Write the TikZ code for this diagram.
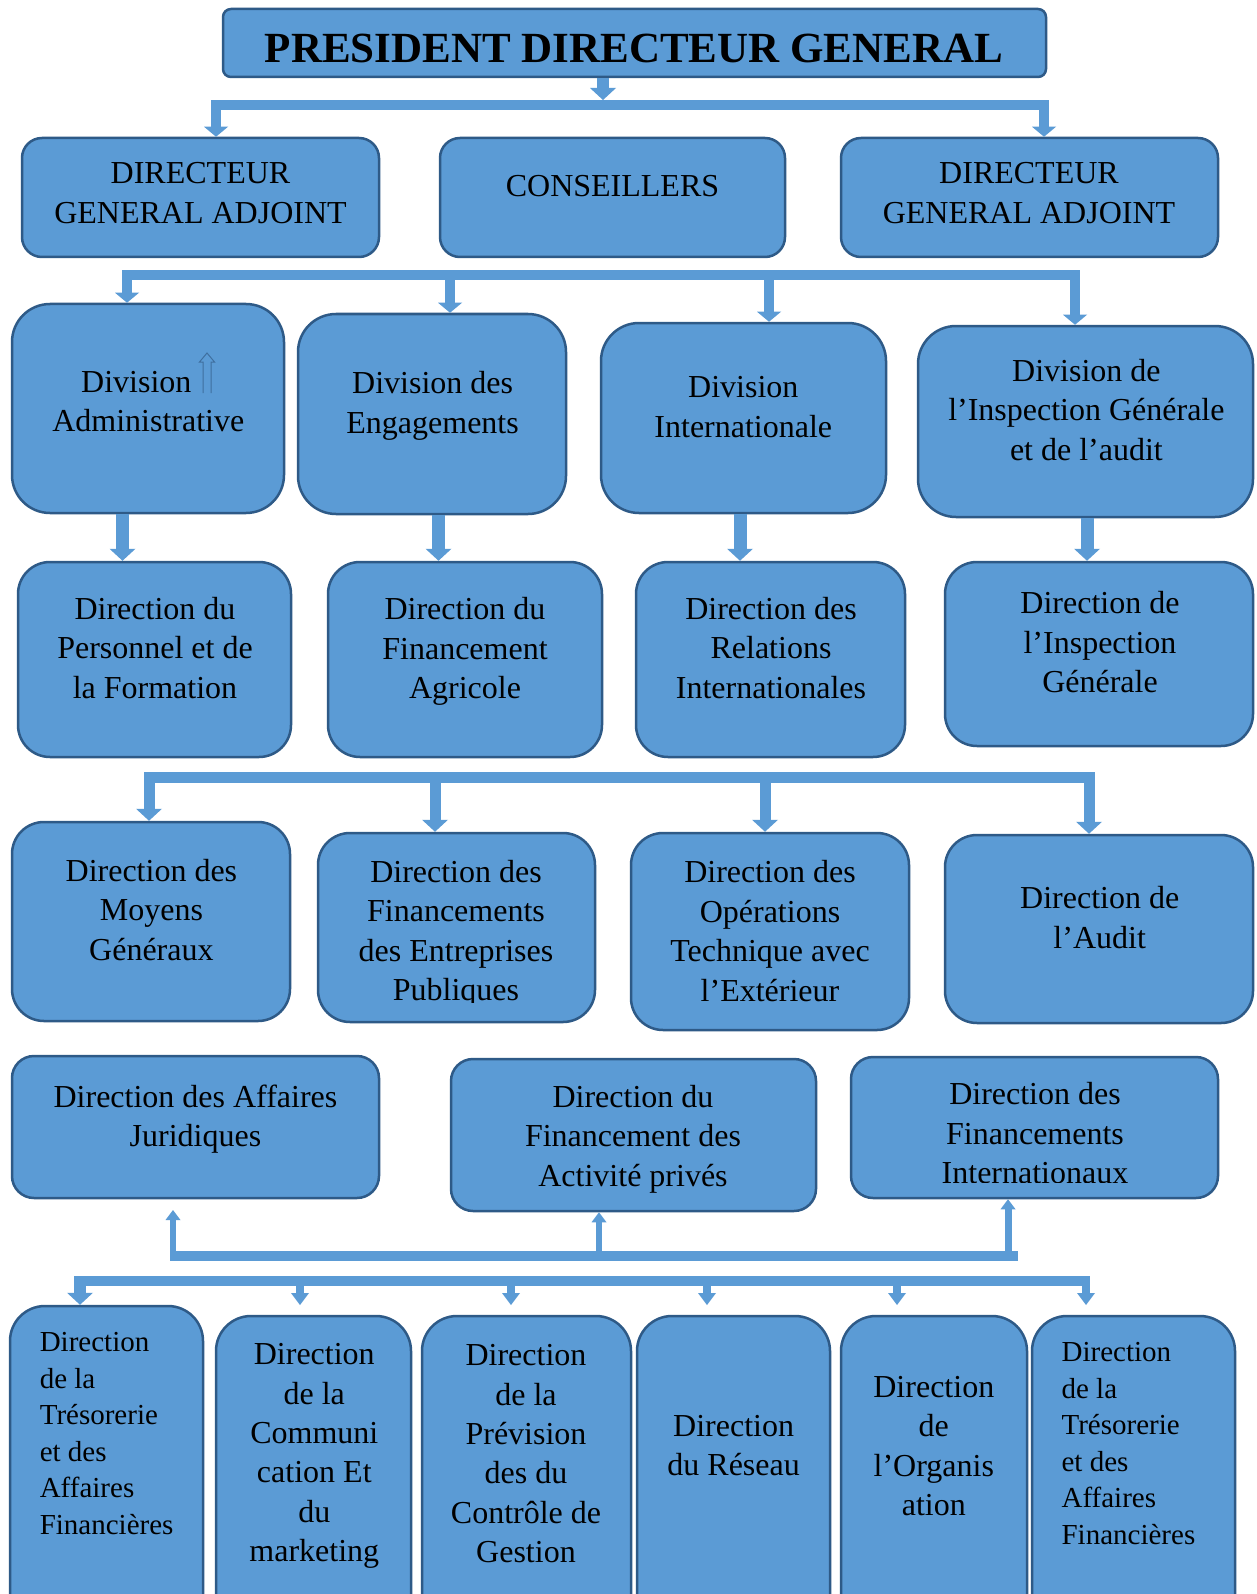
\documentclass[tikz,border=0pt]{standalone}
\usepackage{fontspec}
\setmainfont{Liberation Serif}
\usetikzlibrary{arrows.meta}
\definecolor{boxfill}{HTML}{5B9BD5}
\definecolor{boxline}{HTML}{2E5A87}
\definecolor{glyphcol}{HTML}{3F6F9F}
\tikzset{
  box/.style={rectangle,draw=boxline,fill=boxfill,line width=2.5pt,inner sep=0pt},
  txt/.style={align=center,inner sep=0pt,text=black,font=\fontsize{32}{39.5}\selectfont},
  txtb/.style={align=center,inner sep=0pt,text=black,font=\fontsize{32}{39.3}\selectfont},
  txtl/.style={align=left,anchor=west,inner sep=0pt,text=black,font=\fontsize{29}{36.5}\selectfont},
  conn/.style={draw=boxfill,line width=10pt,line cap=butt,line join=miter},
  headL/.style={>={Triangle[width=26pt 0 0,length=12pt 0 0,line width=0pt 0 0]}},
  headM/.style={>={Triangle[width=24pt 0 0,length=10pt 0 0,line width=0pt 0 0]}},
  headS/.style={>={Triangle[width=15pt 0 0,length=10pt 0 0,line width=0pt 0 0]}},
  headB/.style={>={Triangle[width=18pt 0 0,length=12pt 0 0,line width=0pt 0 0]}},
}
\begin{document}
\begin{tikzpicture}[x=1pt,y=-1pt]
\useasboundingbox (0,0) rectangle (1256,1594);
\clip (0,0) rectangle (1256,1594);
\fill[white] (0,0) rectangle (1256,1594);

% ---------- coordinates of bars ----------
\coordinate (b1) at (0,105.5);
\coordinate (b1top) at (603,100);
\coordinate (b2) at (0,275.5);
\coordinate (b3) at (0,777.5);
\coordinate (b4L) at (170,1256);
\coordinate (b4R) at (1018,1256);
\coordinate (u1) at (173,1210);
\coordinate (b5L) at (74,1281);
\coordinate (b5R) at (1090,1281);
\coordinate (t2) at (300,1305);
\coordinate (t3) at (511,1305);
\coordinate (t4) at (707,1305);
\coordinate (t5) at (897,1305);
\coordinate (t6) at (1086,1305);

% ---------- boxes (named) ----------
\node[box,minimum width=823pt,minimum height=68pt,rounded corners=8pt] (pdg) at (634.5,43) {};
\node[box,minimum width=357pt,minimum height=119pt,rounded corners=20pt] (dga1) at (200.5,197.5) {};
\node[box,minimum width=345pt,minimum height=119pt,rounded corners=20pt] (cons) at (612.5,197.5) {};
\node[box,minimum width=377pt,minimum height=119pt,rounded corners=20pt] (dga2) at (1029.5,197.5) {};

\node[box,minimum width=272pt,minimum height=209pt,rounded corners=38pt] (divA) at (148,408.5) {};
\node[box,minimum width=268pt,minimum height=200pt,rounded corners=38pt] (divE) at (432,414) {};
\node[box,minimum width=285pt,minimum height=190pt,rounded corners=38pt] (divI) at (743.5,418) {};
\node[box,minimum width=335pt,minimum height=191pt,rounded corners=38pt] (divG) at (1085.5,421.5) {};

\node[box,minimum width=273pt,minimum height=195pt,rounded corners=32pt] (dP) at (154.5,659.5) {};
\node[box,minimum width=274pt,minimum height=195pt,rounded corners=32pt] (dFA) at (465,659.5) {};
\node[box,minimum width=269pt,minimum height=195pt,rounded corners=32pt] (dRI) at (770.5,659.5) {};
\node[box,minimum width=308pt,minimum height=184pt,rounded corners=32pt] (dIG) at (1099,654) {};

\node[box,minimum width=278pt,minimum height=199pt,rounded corners=32pt] (dMG) at (151,921.5) {};
\node[box,minimum width=277pt,minimum height=189pt,rounded corners=32pt] (dFE) at (456.5,927.5) {};
\node[box,minimum width=278pt,minimum height=197pt,rounded corners=32pt] (dOT) at (770,931.5) {};
\node[box,minimum width=308pt,minimum height=188pt,rounded corners=32pt] (dAu) at (1099,929) {};

\node[box,minimum width=367pt,minimum height=142pt,rounded corners=22pt] (dAJ) at (195.5,1127) {};
\node[box,minimum width=365pt,minimum height=152pt,rounded corners=22pt] (dFP) at (633.5,1135) {};
\node[box,minimum width=367pt,minimum height=141pt,rounded corners=22pt] (dFI) at (1034.5,1127.5) {};

\node[box,minimum width=193pt,minimum height=334pt,rounded corners=35pt] (bb1) at (106.5,1473) {};
\node[box,minimum width=195pt,minimum height=324pt,rounded corners=35pt] (bb2) at (313.5,1478) {};
\node[box,minimum width=209pt,minimum height=324pt,rounded corners=35pt] (bb3) at (526.5,1478) {};
\node[box,minimum width=193pt,minimum height=324pt,rounded corners=35pt] (bb4) at (733.5,1478) {};
\node[box,minimum width=186pt,minimum height=324pt,rounded corners=35pt] (bb5) at (934,1478) {};
\node[box,minimum width=203pt,minimum height=324pt,rounded corners=35pt] (bb6) at (1133.5,1478) {};

% ---------- connectors ----------
\draw[conn,line width=12pt,headL,->] (603,0 |- pdg.south) -- (b1top);
\draw[conn,headM,<->] (216,0 |- dga1.north) -- (216,0 |- b1) -- (1044,0 |- b1) -- (1044,0 |- dga2.north);

\draw[conn,headM,<->] (127,0 |- divA.north) -- (127,0 |- b2) -- (1075,0 |- b2) -- (1075,0 |- divG.north);
\draw[conn,headM,->] (450,0 |- b2) -- (450,0 |- divE.north);
\draw[conn,headM,->] (769,0 |- b2) -- (769,0 |- divI.north);

\draw[conn,line width=13pt,headL,->] (122.5,0 |- divA.south) -- (122.5,0 |- dP.north);
\draw[conn,line width=13pt,headL,->] (438.5,0 |- divE.south) -- (438.5,0 |- dFA.north);
\draw[conn,line width=13pt,headL,->] (740,0 |- divI.south) -- (740,0 |- dRI.north);
\draw[conn,line width=13pt,headL,->] (1087,0 |- divG.south) -- (1087,0 |- dIG.north);

\draw[conn,line width=11pt,headL,<->] (149,0 |- dMG.north) -- (149,0 |- b3) -- (1089,0 |- b3) -- (1089,0 |- dAu.north);
\draw[conn,line width=11pt,headL,->] (435,0 |- b3) -- (435,0 |- dFE.north);
\draw[conn,line width=11pt,headL,->] (765,0 |- b3) -- (765,0 |- dOT.north);

\draw[conn] (b4L) -- (b4R);
\draw[conn,line width=6pt,headS,->] (173,0 |- b4L) -- (u1);
\draw[conn,line width=6pt,headS,->] (599,0 |- b4L) -- (599,0 |- dFP.south);
\draw[conn,line width=7pt,headS,->] (1008,0 |- b4L) -- (1008,0 |- dFI.south);

\draw[conn] (b5L) -- (b5R);
\draw[conn,line width=12pt,headL,->] (80,0 |- b5L) -- (80,0 |- bb1.north);
\draw[conn,line width=8pt,headB,->] (300,0 |- b5L) -- (t2);
\draw[conn,line width=8pt,headB,->] (511,0 |- b5L) -- (t3);
\draw[conn,line width=8pt,headB,->] (707,0 |- b5L) -- (t4);
\draw[conn,line width=8pt,headB,->] (897,0 |- b5L) -- (t5);
\draw[conn,line width=8pt,headB,->] (1086,0 |- b5L) -- (t6);

% ---------- texts ----------
\node[inner sep=0pt,font=\fontsize{43}{50}\selectfont\bfseries] (tpdg) at (634,48) {PRESIDENT DIRECTEUR GENERAL};
\node[txt] (tdga1) at (200.5,193.3) {DIRECTEUR\\GENERAL ADJOINT};
\node[txt] (tcons) at (612.5,186.2) {CONSEILLERS};
\node[txt] (tdga2) at (1029,193.3) {DIRECTEUR\\GENERAL ADJOINT};

\node[txt] (tdivA) at (148.3,401.8) {Division\hspace*{24pt}\\Administrative};
\draw[glyphcol,line width=1pt,line join=miter] (203,393) -- (203,362) -- (199.5,362) -- (207,353) -- (214.5,362) -- (211,362) -- (211,393);
\node[txt] (tdivE) at (432.6,406) {Division des\\Engagements};
\node[txt] (tdivI) at (743.3,407) {Division\\Internationale};
\node[txt] (tdivG) at (1086.4,410) {Division de\\l’Inspection Générale\\et de l’audit};

\node[txt] (tP) at (155,648) {Direction du\\Personnel et de\\la Formation};
\node[txt] (tFA) at (465,651.5) {Direction du\\Financement\\Agricole};
\node[txt] (tRI) at (771,648) {Direction des\\Relations\\Internationales};
\node[txt] (tIG) at (1100,642.5) {Direction de\\l’Inspection\\Générale};

\node[txt] (tMG) at (151.4,910) {Direction des\\Moyens\\Généraux};
\begin{scope}
\clip (318,833) rectangle (595,1002.5);
\node[txt] (tFE) at (456,934) {Direction des\\Financements\\des Entreprises\\Publiques};
\end{scope}
\node[txt] (tOT) at (770,931.2) {Direction des\\Opérations\\Technique avec\\l’Extérieur};
\node[txt] (tAu) at (1099.7,917.5) {Direction de\\l’Audit};

\node[txt] (tAJ) at (195.5,1119) {Direction des Affaires\\Juridiques};
\node[txt] (tFP) at (633,1139) {Direction du\\Financement des\\Activité privés};
\begin{scope}
\clip (851,1057) rectangle (1218,1182);
\node[txt] (tFI) at (1035,1133.5) {Direction des\\Financements\\Internationaux};
\end{scope}

\node[txtl] (tb1) at (39.6,1433.5) {Direction\\de la\\Trésorerie\\et des\\Affaires\\Financières};
\node[txtb] (tb2) at (314.3,1456) {Direction\\de la\\Communi\\cation Et\\du\\marketing};
\node[txtb] (tb3) at (526,1453.7) {Direction\\de la\\Prévision\\des du\\Contrôle de\\Gestion};
\node[txtb] (tb4) at (733.6,1445.5) {Direction\\du Réseau};
\node[txtb] (tb5) at (933.8,1446) {Direction\\de\\l’Organis\\ation};
\node[txtl] (tb6) at (1061.4,1443.7) {Direction\\de la\\Trésorerie\\et des\\Affaires\\Financières};
\end{tikzpicture}
\end{document}
